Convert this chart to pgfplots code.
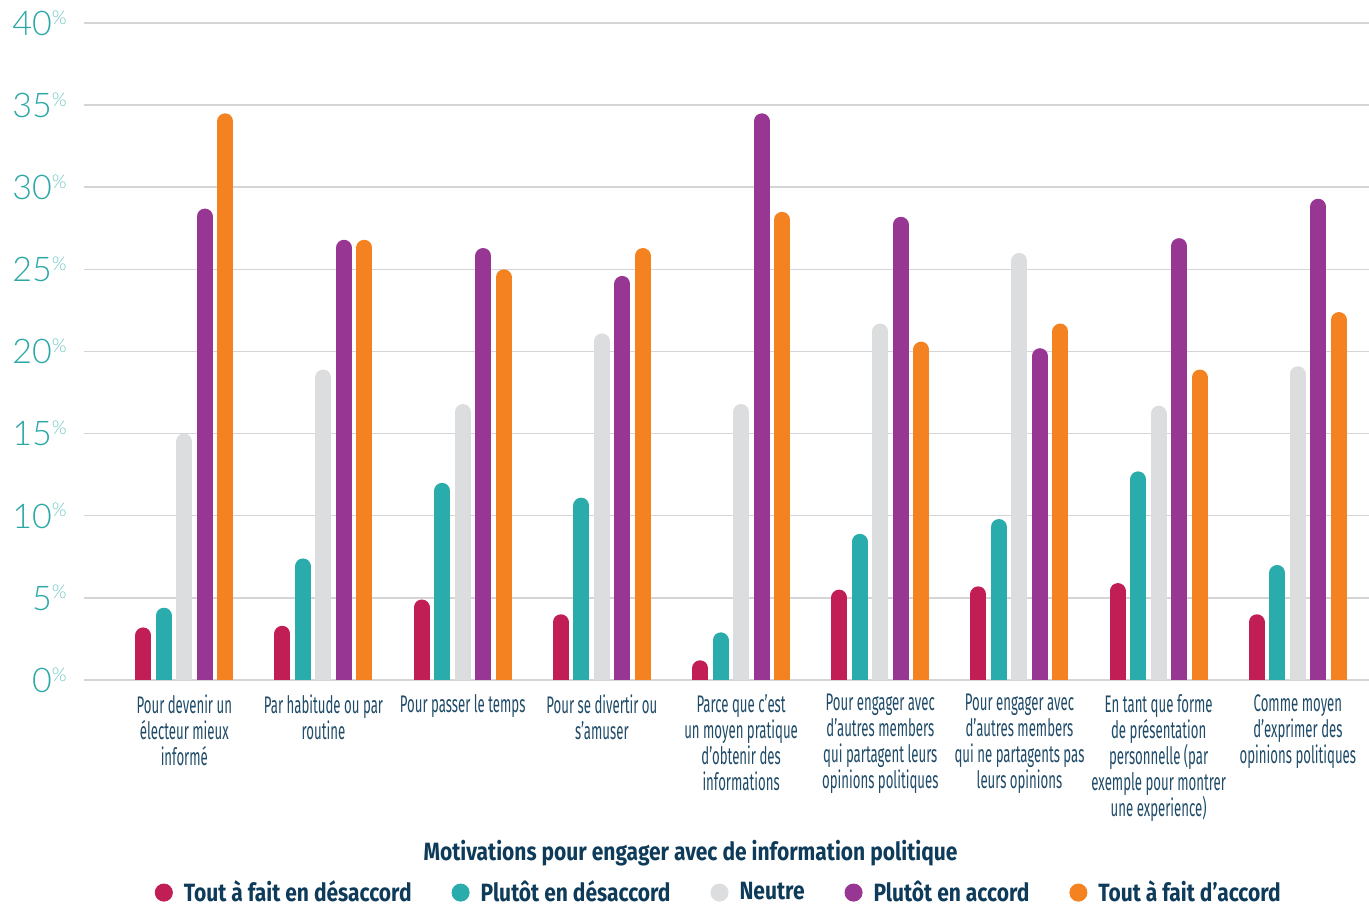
\documentclass[border=0pt]{standalone}
\usepackage{pgfplots}
\pgfplotsset{compat=1.18}
\usepackage{pgfplotstable}
\usepackage{fontspec}
\usetikzlibrary{calc}
\setmainfont{Fira Sans}
\newfontfamily\condfont[FakeStretch=0.55]{Fira Sans}
\newfontfamily\titlefont[FakeStretch=0.84]{Fira Sans}
\newfontfamily\ylabfont{Lato Light}

\definecolor{cred}{HTML}{C21E56}
\definecolor{cteal}{HTML}{2AACAC}
\definecolor{cgray}{HTML}{DCDDDF}
\definecolor{cpurple}{HTML}{973693}
\definecolor{corange}{HTML}{F58220}
\definecolor{gridgray}{HTML}{D5D5D7}
\definecolor{labnavy}{HTML}{1F4B68}
\definecolor{titlenavy}{HTML}{0E3B5A}
\definecolor{ylabteal}{HTML}{2BA8A6}
\definecolor{pctteal}{HTML}{6CC6C4}

\pgfplotstableread{
x v
0 3.2
1 3.3
2 4.9
3 4.0
4 1.2
5 5.5
6 5.7
7 5.9
8 4.0
}\tabred
\pgfplotstableread{
x v
0 4.4
1 7.4
2 12.0
3 11.1
4 2.9
5 8.9
6 9.8
7 12.7
8 7.0
}\tabteal
\pgfplotstableread{
x v
0 15.0
1 18.9
2 16.8
3 21.1
4 16.8
5 21.7
6 26.0
7 16.7
8 19.1
}\tabgray
\pgfplotstableread{
x v
0 28.7
1 26.8
2 26.3
3 24.6
4 34.5
5 28.2
6 20.2
7 26.9
8 29.3
}\tabpurple
\pgfplotstableread{
x v
0 34.5
1 26.8
2 25.0
3 26.3
4 28.5
5 20.6
6 21.7
7 18.9
8 22.4
}\taborange

\begin{document}
\begin{tikzpicture}
\begin{axis}[
  scale only axis, width=642.5pt, height=328.5pt,
  xmin=-0.7206, xmax=8.511, ymin=0, ymax=40,
  xtick={0,...,8},
  xticklabels={
    {Pour devenir un\\électeur mieux\\informé},
    {Par habitude ou par\\routine},
    {Pour passer le temps},
    {Pour se divertir ou\\s’amuser},
    {Parce que c’est\\un moyen pratique\\d’obtenir des\\informations},
    {Pour engager avec\\d’autres members\\qui partagent leurs\\opinions politiques},
    {Pour engager avec\\d’autres members\\qui ne partagents pas\\leurs opinions},
    {En tant que forme\\de présentation\\personnelle (par\\exemple pour montrer\\une experience)},
    {Comme moyen\\d’exprimer des\\opinions politiques}},
  ytick={0,5,...,40},
  axis line style={draw=none},
  major tick length=0pt,
  ymajorgrids, grid style={draw=gridgray, line width=0.75pt},
  /pgf/number format/assume math mode=true,
  xticklabel style={font=\condfont\fontsize{12}{13}\selectfont, text=labnavy, align=center, anchor=north, inner sep=0pt, yshift=-7pt},
  yticklabel={\ylabfont\fontsize{17}{17}\selectfont\pgfmathprintnumber{\tick}\raisebox{5.6pt}{\fontsize{9.5}{9.5}\selectfont\color{pctteal}\%}},
  yticklabel style={anchor=east, inner sep=0pt, xshift=-8.5pt, text=ylabteal},
  xlabel={Motivations pour engager avec de information politique},
  xlabel style={at={(axis description cs:0.472,0)}, anchor=center, yshift=-86.5pt, inner sep=1pt, font=\titlefont\bfseries\fontsize{12.5}{14}\selectfont, text=titlenavy},
  legend style={at={(axis description cs:0.494,0)}, anchor=center, yshift=-106.3pt, draw=none, fill=none, legend columns=-1, inner sep=0pt,
    font=\titlefont\bfseries\fontsize{12.5}{14}\selectfont, text=titlenavy,
    nodes={inner sep=1pt},
    /tikz/every odd column/.append style={column sep=4.5pt},
    /tikz/every even column/.append style={column sep=19pt}},
  legend cell align=left,
]
\addplot[ycomb, draw=cred, line width=8pt, line cap=round, xshift=-20.5pt, yshift=-4pt, forget plot] table[x=x,y=v]{\tabred};
\addplot[ycomb, draw=cteal, line width=8pt, line cap=round, xshift=-10.25pt, yshift=-4pt, forget plot] table[x=x,y=v]{\tabteal};
\addplot[ycomb, draw=cgray, line width=8pt, line cap=round, yshift=-4pt, forget plot] table[x=x,y=v]{\tabgray};
\addplot[ycomb, draw=cpurple, line width=8pt, line cap=round, xshift=10.25pt, yshift=-4pt, forget plot] table[x=x,y=v]{\tabpurple};
\addplot[ycomb, draw=corange, line width=8pt, line cap=round, xshift=20.5pt, yshift=-4pt, forget plot] table[x=x,y=v]{\taborange};

\addlegendimage{legend image code/.code={\fill[cred] (0pt,0pt) circle (4.3pt);}}
\addlegendentry{Tout à fait en désaccord}
\addlegendimage{legend image code/.code={\fill[cteal] (0pt,0pt) circle (4.3pt);}}
\addlegendentry{Plutôt en désaccord}
\addlegendimage{legend image code/.code={\fill[cgray] (0pt,0pt) circle (4.3pt);}}
\addlegendentry{Neutre}
\addlegendimage{legend image code/.code={\fill[cpurple] (0pt,0pt) circle (4.3pt);}}
\addlegendentry{Plutôt en accord}
\addlegendimage{legend image code/.code={\fill[corange] (0pt,0pt) circle (4.3pt);}}
\addlegendentry{Tout à fait d’accord}

\coordinate (bl) at (rel axis cs:0,0);
\coordinate (tr) at (rel axis cs:1,1);
\end{axis}
\pgfresetboundingbox
\path[use as bounding box] ($(bl)+(-42pt,-113pt)$) rectangle ($(tr)+(0pt,11.5pt)$);
\end{tikzpicture}
\end{document}
